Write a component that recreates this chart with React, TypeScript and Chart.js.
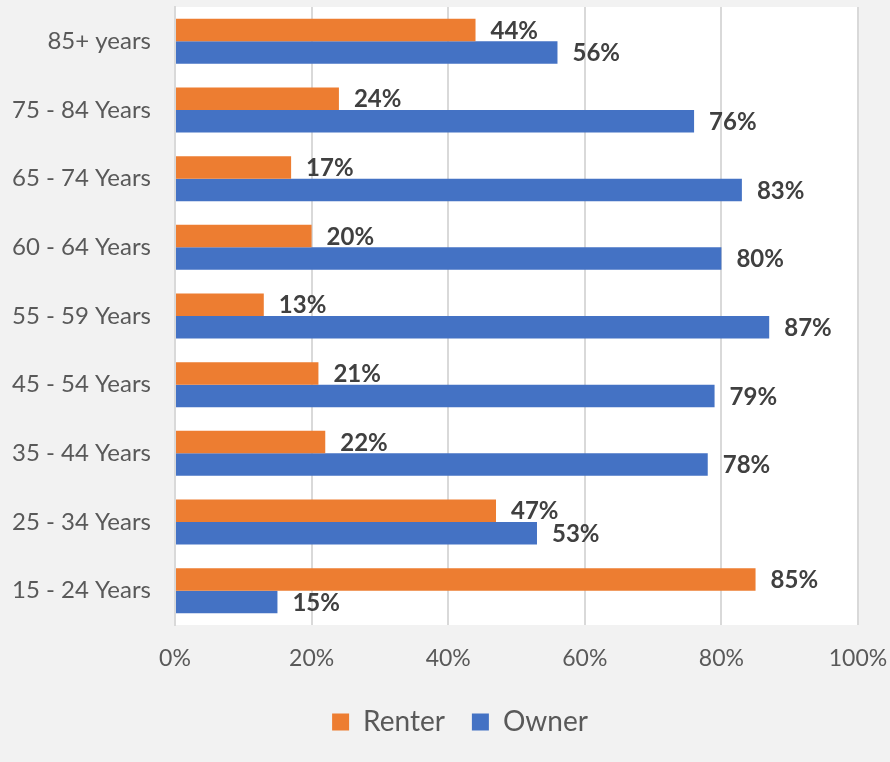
import React, { useEffect, useRef } from "react";
import { Chart, registerables } from "chart.js";

Chart.register(...registerables);

const categories = [
  "85+ years",
  "75 - 84 Years",
  "65 - 74 Years",
  "60 - 64 Years",
  "55 - 59 Years",
  "45 - 54 Years",
  "35 - 44 Years",
  "25 - 34 Years",
  "15 - 24 Years",
];
const renterValues = [44, 24, 17, 20, 13, 21, 22, 47, 85];
const ownerValues = [56, 76, 83, 80, 87, 79, 78, 53, 15];
const seriesNames = ["Renter", "Owner"];
const xTickValues = [0, 20, 40, 60, 80, 100];

const FONT = "Lato, 'Open Sans', sans-serif";

const backgroundPlugin = {
  id: "bgPlot",
  beforeDraw(chart: any) {
    const { ctx, chartArea, width, height } = chart;
    ctx.save();
    ctx.fillStyle = "#f2f2f2";
    ctx.fillRect(0, 0, width, height);
    ctx.fillStyle = "#ffffff";
    ctx.fillRect(chartArea.left, chartArea.top, chartArea.right - chartArea.left, chartArea.bottom - chartArea.top);
    ctx.restore();
  },
};

const legendShiftPlugin = {
  id: "legendShift",
  afterLayout(chart: any) {
    if (chart.legend) {
      chart.legend.left += 31;
      chart.legend.right += 31;
    }
  },
};

const labelPlugin = {
  id: "barLabels",
  afterDatasetsDraw(chart: any) {
    const { ctx } = chart;
    ctx.save();
    ctx.font = `bold 24px ${FONT}`;
    ctx.fillStyle = "#404040";
    ctx.textAlign = "left";
    ctx.textBaseline = "middle";
    chart.data.datasets.forEach((ds: any, di: number) => {
      const meta = chart.getDatasetMeta(di);
      meta.data.forEach((el: any, i: number) => {
        ctx.fillText(`${ds.data[i]}%`, el.x + 15, el.y + 1);
      });
    });
    ctx.restore();
  },
};

export default function App() {
  const ref = useRef<HTMLCanvasElement>(null);
  useEffect(() => {
    document.body.style.margin = "0";
    const chart = new Chart(ref.current!, {
      type: "bar",
      data: {
        labels: categories,
        datasets: [
          {
            label: seriesNames[0],
            data: renterValues,
            backgroundColor: "#ED7D31",
            categoryPercentage: 0.655,
            barPercentage: 1,
          },
          {
            label: seriesNames[1],
            data: ownerValues,
            backgroundColor: "#4472C4",
            categoryPercentage: 0.655,
            barPercentage: 1,
          },
        ],
      },
      options: {
        indexAxis: "y",
        responsive: false,
        animation: false,
        layout: { padding: { left: 0, right: 32, top: 7, bottom: 16 } },
        scales: {
          x: {
            min: 0,
            max: 100,
            afterBuildTicks: (axis: any) => {
              axis.ticks = xTickValues.map((v) => ({ value: v }));
            },
            afterFit: (axis: any) => {
              axis.height = 56;
              axis.paddingLeft = 0;
              axis.paddingRight = 0;
            },
            ticks: {
              callback: (v: any) => `${v}%`,
              color: "#595959",
              font: { family: FONT, size: 23 },
              padding: 20,
            },
            grid: { color: "#d9d9d9", lineWidth: 2, drawTicks: false },
            border: { display: false },
          },
          y: {
            afterFit: (axis: any) => {
              axis.width = 175;
              axis.paddingTop = 0;
              axis.paddingBottom = 0;
            },
            ticks: {
              color: "#595959",
              font: { family: FONT, size: 24 },
              padding: 24,
            },
            grid: { display: false, drawTicks: false },
            border: { display: true, color: "#d9d9d9", width: 2 },
          },
        },
        plugins: {
          legend: {
            position: "bottom",
            labels: {
              color: "#595959",
              font: { family: FONT, size: 28 },
              boxWidth: 17,
              boxHeight: 17,
              padding: 27,
            },
          },
          tooltip: { enabled: false },
        },
      },
      plugins: [backgroundPlugin, legendShiftPlugin, labelPlugin],
    } as any);
    return () => chart.destroy();
  }, []);
  return (
    <div style={{ width: 890, height: 762 }}>
      <canvas ref={ref} width={890} height={762} />
    </div>
  );
}
